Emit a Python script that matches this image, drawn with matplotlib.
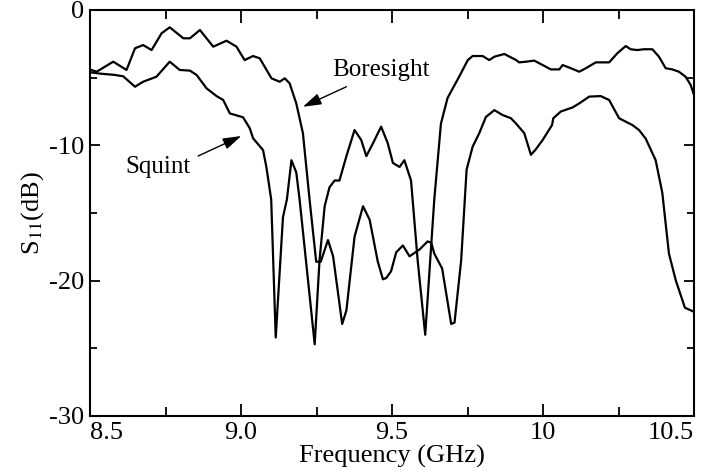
import matplotlib
matplotlib.use("Agg")
import matplotlib.pyplot as plt

# boresight: upper curve on the left
bore_f = [8.50, 8.522, 8.577, 8.621, 8.649, 8.676, 8.704, 8.737, 8.764, 8.809, 8.831,
          8.864, 8.908, 8.952, 8.985, 9.012, 9.040, 9.062, 9.101, 9.128, 9.145, 9.161,
          9.183, 9.205, 9.227, 9.249, 9.264, 9.288, 9.305, 9.335, 9.349, 9.376, 9.404,
          9.426, 9.453, 9.470, 9.481, 9.497, 9.514, 9.536, 9.558, 9.591, 9.618, 9.630,
          9.640, 9.666, 9.696, 9.707, 9.729, 9.747, 9.767, 9.789, 9.811, 9.839, 9.866,
          9.894, 9.911, 9.938, 9.960, 9.976, 9.999, 10.030, 10.034, 10.059, 10.098, 10.120,
          10.153, 10.191, 10.219, 10.252, 10.296, 10.318, 10.340, 10.373, 10.395, 10.417,
          10.440, 10.470, 10.500]
bore_db = [-4.4, -4.56, -3.82, -4.43, -2.83, -2.59, -2.96, -1.72, -1.28, -2.09, -2.09,
           -1.48, -2.71, -2.27, -2.71, -3.70, -3.40, -3.57, -5.05, -5.30, -5.05, -5.42,
           -6.9, -9.1, -14.0, -18.6, -18.6, -17.0, -18.2, -23.2, -22.2, -16.75, -14.5,
           -15.5, -18.6, -19.9, -19.8, -19.3, -17.9, -17.4, -18.2, -17.7, -17.1, -17.2,
           -18.0, -19.1, -23.2, -23.1, -18.5, -11.8, -10.1, -9.1, -7.9, -7.4, -7.76,
           -8.0, -8.4, -9.1, -10.7, -10.3, -9.6, -8.5, -8.0, -7.5, -7.2, -6.9,
           -6.4, -6.36, -6.65, -8.0, -8.5, -8.87, -9.5, -11.1, -13.5, -18.0,
           -20.0, -22.0, -22.3]

# squint: lower curve on the left
squint_f = [8.50, 8.533, 8.583, 8.610, 8.649, 8.676, 8.720, 8.764, 8.797, 8.831, 8.853,
            8.886, 8.919, 8.941, 8.963, 9.007, 9.029, 9.040, 9.073, 9.084, 9.100,
            9.115, 9.139, 9.152, 9.167, 9.183, 9.194, 9.244, 9.260, 9.277, 9.293, 9.310,
            9.326, 9.349, 9.376, 9.398, 9.415, 9.437, 9.464, 9.486, 9.503, 9.525, 9.541,
            9.563, 9.585, 9.610, 9.640, 9.662, 9.684, 9.723, 9.751, 9.767, 9.800, 9.822,
            9.839, 9.872, 9.911, 9.921, 9.944, 9.971, 9.999, 10.026, 10.054, 10.065, 10.092,
            10.120, 10.142, 10.175, 10.219, 10.246, 10.274, 10.290, 10.312, 10.334, 10.362,
            10.384, 10.406, 10.428, 10.450, 10.472, 10.489, 10.500]
squint_db = [-4.6, -4.7, -4.8, -4.9, -5.67, -5.3, -4.93, -3.82, -4.43, -4.48, -4.8,
             -5.79, -6.36, -6.65, -7.64, -7.93, -8.74, -9.48, -10.35, -11.6, -14.0,
             -24.2, -15.3, -14.0, -11.1, -12.0, -14.0, -24.7, -18.5, -14.5, -13.1, -12.6,
             -12.6, -10.8, -8.87, -9.6, -10.8, -9.85, -8.62, -9.85, -11.3, -11.6, -11.1,
             -12.6, -18.5, -24.0, -14.0, -8.4, -6.5, -4.9, -3.7, -3.4, -3.4, -3.7,
             -3.45, -3.25, -3.7, -3.87, -3.82, -3.74, -4.07, -4.39, -4.39, -4.07, -4.3,
             -4.56, -4.3, -3.87, -3.87, -3.2, -2.66, -2.9, -2.96, -2.9, -2.9,
             -3.45, -4.3, -4.39, -4.56, -4.93, -5.54, -6.28]

xticks = [8.5, 9.0, 9.5, 10.0, 10.5]
xticklabels = ["8.5", "9.0", "9.5", "10", "10.5"]
yticks = [0, -10, -20, -30]

plt.rcParams["font.family"] = ["Liberation Serif", "DejaVu Serif"]
plt.rcParams["mathtext.fontset"] = "stix"
plt.rcParams["axes.unicode_minus"] = False

fig = plt.figure(figsize=(7.06, 4.71), dpi=100)
ax = fig.add_axes([90 / 706, 55 / 471, 604 / 706, 406 / 471])

ax.plot(bore_f, bore_db, color="black", lw=1.6)
ax.plot(squint_f, squint_db, color="black", lw=1.6)

ax.set_xlim(8.5, 10.5)
ax.set_ylim(-30, 0)
ax.set_xticks(xticks)
ax.set_xticklabels(xticklabels)
ax.set_xticks([8.75, 9.25, 9.75, 10.25], minor=True)
ax.set_yticks(yticks)
ax.set_yticks([-5, -15, -25], minor=True)
ax.tick_params(axis="both", which="both", direction="in", top=True, right=True,
               labelsize=19, width=1.3)
ax.tick_params(axis="x", which="major", length=9, pad=4)
ax.tick_params(axis="x", which="minor", length=6.5)
ax.tick_params(axis="y", which="major", length=7.2, pad=4)
ax.tick_params(axis="y", which="minor", length=5)
labs = ax.get_xticklabels()
labs[0].set_horizontalalignment("left")
labs[-1].set_horizontalalignment("right")
for s in ax.spines.values():
    s.set_linewidth(1.5)

ax.set_xlabel("Frequency (GHz)", fontsize=19, labelpad=1)
ax.set_ylabel(r"S$_{11}$(dB)", fontsize=19, labelpad=2)

arrow = dict(arrowstyle="-|>,head_length=0.8,head_width=0.25", color="black", lw=1,
             mutation_scale=14, shrinkA=0, shrinkB=0)
ax.text(9.462, -4.4, "Boresight", fontsize=18, ha="center", va="center")
ax.annotate("", xy=(9.205, -7.15), xytext=(9.349, -5.67), arrowprops=arrow)
ax.text(8.725, -11.6, "Squint", fontsize=18, ha="center", va="center")
ax.annotate("", xy=(9.001, -9.31), xytext=(8.858, -10.79), arrowprops=arrow)

fig.savefig("out.png", dpi=100)
